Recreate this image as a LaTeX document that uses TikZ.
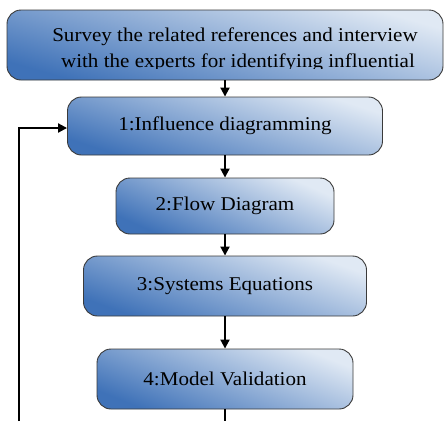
\documentclass[tikz,border=0pt]{standalone}
\usepackage{fontspec}
\setmainfont{Liberation Serif}[FakeStretch=1.08]
\usetikzlibrary{arrows.meta}
\definecolor{boxdark}{HTML}{3F72B8}
\definecolor{boxlight}{HTML}{E0E9F4}
\definecolor{boxedge}{HTML}{3A3A3A}
\tikzset{
  stagebox/.style={rounded corners=14pt, draw=boxedge, line width=0.9pt,
    top color=boxlight, bottom color=boxdark, shading angle=#1,
    font=\fontsize{19.5}{22}\selectfont, text=black, inner sep=0pt},
  stagebox/.default=-20,
  flow/.style={line width=2pt, -{Triangle[length=9pt,width=9pt]}},
  txt/.style={font=\fontsize{19.5}{22}\selectfont, inner sep=0pt, anchor=base}
}
\begin{document}
\begin{tikzpicture}[x=1pt,y=-1pt]
\useasboundingbox (0,0) rectangle (444,421);
\node[stagebox=-16, minimum width=436pt, minimum height=70pt] (top) at (225,45) {};
\begin{scope}
  \clip (7,10) rectangle (443,68);
  \node[txt] (t1) at (235,41) {Survey the related references and interview};
  \node[txt] (t2) at (238,67) {with the experts for identifying influential};
\end{scope}
\node[stagebox=-18, minimum width=315pt, minimum height=58pt] (b1) at (225,126) {1:Influence diagramming};
\node[stagebox=-24, minimum width=218pt, minimum height=56pt] (b2) at (225,206) {2:Flow Diagram};
\node[stagebox=-20, minimum width=283pt, minimum height=60pt] (b3) at (225,286) {3:Systems Equations};
\node[stagebox=-22, minimum width=256pt, minimum height=60pt] (b4) at (225,379) {4:Model Validation};
\coordinate (exit) at (225,421);
\coordinate (back) at (19,421);
\draw[flow] (top) -- (b1);
\draw[flow] (b1) -- (b2);
\draw[flow] (b2) -- (b3);
\draw[flow] (b3) -- (b4);
\draw[line width=2pt] (b4.south) -- (exit);
\draw[flow] (back) |- ([yshift=-2pt]b1.west);
\end{tikzpicture}
\end{document}
